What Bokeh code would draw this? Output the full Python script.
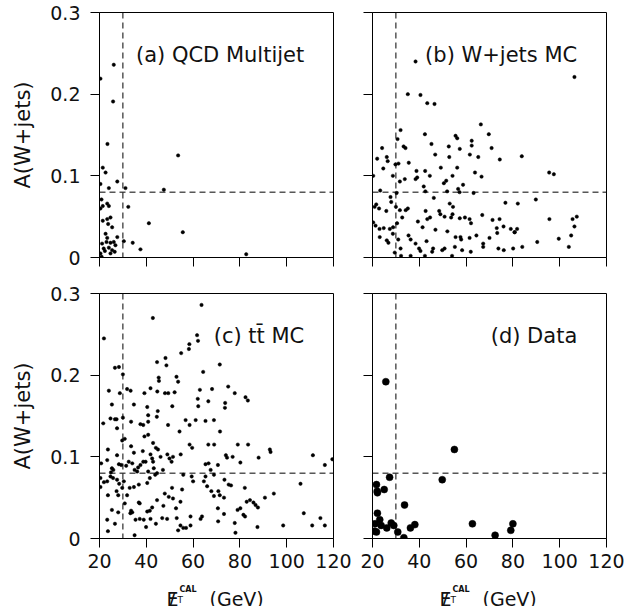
from bokeh.plotting import figure
from bokeh.models import (Range1d, FixedTicker, NumeralTickFormatter, Span, Label,
                          CustomJSTickFormatter)
from bokeh.layouts import column, row
from bokeh.embed import file_html
from bokeh.resources import INLINE

FONT = "DejaVu Sans"
X_TICKS = [20, 40, 60, 80, 100, 120]
Y_TICKS = [0, 0.1, 0.2, 0.3]
MET_CUT = 30
A_CUT = 0.08
Y_LABEL = "A(W+jets)"
TITLES = ["(a) QCD Multijet", "(b) W+jets MC", "(c) tt\u0304 MC", "(d) Data"]

qcd_x = [20.85, 21.4, 23.3, 24.0, 21.4, 23.3, 24.7, 23.7, 25.4, 22.6, 23.3, 21.1, 23.0, 24.7,
         26.1, 27.6, 21.8, 24.0, 25.4, 20.4, 22.3, 24.7, 26.5, 20.9, 30.4, 34.2, 37.5, 32.3,
         41.1, 55.6, 31.1, 47.5, 27.6, 24.0, 22.6, 21.4, 20.4, 23.4, 53.6, 25.8, 20.4, 26.1,
         82.7, 20.4, 26.8]
qcd_y = [0.071, 0.063, 0.066, 0.063, 0.045, 0.047, 0.049, 0.041, 0.037, 0.029, 0.024, 0.017,
         0.019, 0.018, 0.019, 0.025, 0.011, 0.012, 0.009, 0.005, 0.008, 0.005, 0.007, 0.001,
         0.020, 0.018, 0.010, 0.062, 0.042, 0.031, 0.085, 0.083, 0.093, 0.085, 0.104, 0.110,
         0.090, 0.139, 0.125, 0.191, 0.219, 0.236, 0.004, 0.060, 0.015]

wjets_x = [38.4, 106.3, 35.1, 40.5, 43.4, 46.5, 66.3, 32.0, 42.4, 69.7, 55.5, 56.2, 62.4, 62.4,
           30.7, 45.2, 33.3, 34.1, 24.1, 52.6, 57.3, 70.9, 46.8, 52.8, 22.0, 26.1, 26.5, 35.5,
           61.6, 65.2, 74.4, 83.8, 24.6, 29.8, 31.1, 42.5, 49.2, 56.2, 20.3, 28.7, 31.7, 33.8,
           38.4, 38.8, 39.1, 44.5, 50.5, 51.5, 54.2, 63.8, 66.6, 95.5, 97.5, 23.3, 30.3, 41.9,
           42.6, 46.2, 51.9, 56.6, 57.2, 58.7, 63.2, 21.6, 20.9, 22.8, 25.9, 28.0, 30.0, 31.7,
           34.2, 35.1, 42.7, 48.5, 53.0, 54.4, 54.2, 76.8, 82.1, 89.8, 27.7, 20.3, 21.3, 23.0,
           24.8, 27.4, 28.8, 30.5, 32.7, 39.4, 41.4, 43.4, 44.6, 46.9, 49.0, 50.8, 53.6, 57.3,
           59.5, 61.5, 62.1, 66.9, 71.3, 74.3, 76.0, 73.1, 73.3, 79.1, 80.7, 81.8, 80.8, 95.6,
           105.5, 107.3, 106.3, 23.1, 26.1, 28.7, 31.0, 35.4, 36.3, 38.4, 43.1, 52.0, 55.5,
           57.6, 57.9, 61.5, 64.4, 67.3, 67.3, 70.0, 73.8, 76.1, 80.1, 84.0, 90.4, 99.6, 103.9,
           104.9, 26.8, 29.5, 32.0, 36.3, 39.9, 40.5, 45.9, 49.8, 50.8, 54.0, 58.3, 62.0, 42.4,
           45.5, 55.2, 32.2]
wjets_y = [0.240, 0.221, 0.200, 0.199, 0.189, 0.188, 0.163, 0.156, 0.151, 0.151, 0.149, 0.146,
           0.143, 0.137, 0.145, 0.139, 0.136, 0.134, 0.134, 0.136, 0.133, 0.134, 0.126, 0.123,
           0.121, 0.123, 0.118, 0.116, 0.126, 0.123, 0.120, 0.124, 0.109, 0.114, 0.115, 0.106,
           0.110, 0.110, 0.100, 0.100, 0.093, 0.096, 0.096, 0.106, 0.098, 0.100, 0.091, 0.094,
           0.100, 0.104, 0.099, 0.104, 0.102, 0.082, 0.079, 0.087, 0.081, 0.073, 0.081, 0.084,
           0.080, 0.089, 0.079, 0.065, 0.062, 0.060, 0.057, 0.068, 0.062, 0.058, 0.058, 0.060,
           0.057, 0.057, 0.066, 0.062, 0.053, 0.067, 0.066, 0.071, 0.074, 0.043, 0.039, 0.035,
           0.036, 0.035, 0.037, 0.042, 0.049, 0.044, 0.037, 0.047, 0.049, 0.034, 0.053, 0.050,
           0.049, 0.048, 0.049, 0.047, 0.042, 0.052, 0.046, 0.047, 0.038, 0.036, 0.030, 0.035,
           0.031, 0.035, 0.031, 0.047, 0.047, 0.050, 0.038, 0.025, 0.021, 0.029, 0.022, 0.027,
           0.022, 0.017, 0.020, 0.032, 0.025, 0.025, 0.022, 0.024, 0.027, 0.017, 0.013, 0.024,
           0.011, 0.009, 0.011, 0.013, 0.019, 0.023, 0.013, 0.027, 0.018, 0.006, 0.011, 0.002,
           0.011, 0.008, 0.011, 0.009, 0.011, 0.002, 0.009, 0.007, 0.002, 0.007, 0.013, 0.002]

ttbar_x = [63.6, 42.8, 21.9, 61.7, 62.1, 58.4, 58.2, 54.9, 52.9, 53.6, 64.3, 71.4, 48.2, 48.6,
           44.6, 45.3, 45.4, 26.6, 28.3, 30.0, 21.6, 24.0, 28.7, 31.8, 33.3, 39.2, 41.8, 40.4,
           44.7, 48.0, 49.4, 52.1, 51.1, 62.9, 68.1, 62.0, 62.2, 66.5, 75.0, 77.8, 73.7, 73.6,
           82.4, 83.4, 25.3, 34.7, 40.8, 44.5, 44.9, 24.7, 26.6, 27.3, 30.0, 33.5, 37.5, 38.7,
           40.8, 49.3, 54.2, 56.8, 58.5, 61.1, 65.3, 68.9, 71.5, 23.6, 27.5, 29.7, 30.8, 33.5,
           39.2, 40.8, 34.7, 38.5, 42.9, 44.1, 45.0, 41.8, 42.5, 42.9, 46.1, 49.0, 49.9, 50.8,
           51.4, 54.7, 58.5, 59.6, 66.5, 69.0, 74.0, 74.5, 76.9, 79.1, 83.5, 80.2, 88.0, 92.8,
           93.1, 20.7, 23.3, 25.3, 25.9, 24.9, 27.5, 28.3, 29.3, 31.4, 32.5, 34.0, 35.0, 36.1,
           36.5, 37.5, 38.7, 39.7, 40.8, 43.2, 43.8, 44.6, 47.1, 55.8, 59.4, 60.0, 65.3, 66.6,
           67.5, 68.9, 70.6, 65.3, 20.4, 21.9, 23.3, 24.7, 25.8, 27.5, 28.4, 29.7, 30.4, 32.9,
           34.7, 36.8, 40.4, 41.5, 20.4, 23.6, 27.3, 28.0, 31.8, 30.8, 33.5, 34.0, 36.8, 37.2,
           40.4, 41.5, 42.5, 44.6, 47.3, 47.9, 49.6, 51.4, 52.7, 54.6, 55.3, 51.0, 64.6, 66.0,
           67.8, 68.9, 70.8, 71.4, 73.4, 75.2, 76.2, 73.2, 70.6, 73.2, 23.3, 25.3, 26.6, 28.0,
           33.2, 35.4, 37.2, 38.9, 39.9, 41.8, 44.1, 46.8, 48.9, 53.0, 53.6, 54.6, 55.8, 57.0,
           58.9, 58.9, 63.2, 63.8, 70.7, 77.8, 78.1, 79.0, 80.2, 81.5, 82.2, 82.9, 84.3, 85.8,
           86.7, 87.7, 87.5, 90.7, 94.5, 98.5, 82.1, 23.6, 35.0, 105.9, 107.3, 111.2, 110.9,
           114.4, 116.3, 116.3, 119.5]
ttbar_y = [0.286, 0.270, 0.245, 0.249, 0.242, 0.238, 0.232, 0.227, 0.198, 0.192, 0.204, 0.213,
           0.221, 0.212, 0.216, 0.197, 0.193, 0.209, 0.210, 0.201, 0.141, 0.181, 0.178, 0.183,
           0.181, 0.178, 0.184, 0.161, 0.180, 0.178, 0.178, 0.179, 0.162, 0.182, 0.183, 0.171,
           0.162, 0.168, 0.186, 0.178, 0.166, 0.160, 0.173, 0.169, 0.164, 0.164, 0.151, 0.149,
           0.156, 0.147, 0.146, 0.146, 0.148, 0.143, 0.140, 0.139, 0.143, 0.139, 0.131, 0.145,
           0.139, 0.145, 0.144, 0.145, 0.131, 0.109, 0.135, 0.120, 0.122, 0.113, 0.125, 0.127,
           0.105, 0.107, 0.117, 0.111, 0.109, 0.103, 0.098, 0.094, 0.100, 0.103, 0.098, 0.094,
           0.100, 0.103, 0.115, 0.111, 0.115, 0.115, 0.102, 0.099, 0.100, 0.115, 0.115, 0.093,
           0.099, 0.109, 0.106, 0.092, 0.096, 0.086, 0.084, 0.081, 0.102, 0.091, 0.090, 0.089,
           0.094, 0.092, 0.084, 0.082, 0.087, 0.090, 0.094, 0.094, 0.082, 0.086, 0.078, 0.080,
           0.084, 0.078, 0.076, 0.070, 0.091, 0.092, 0.084, 0.078, 0.090, 0.076, 0.074, 0.069,
           0.070, 0.076, 0.074, 0.072, 0.067, 0.062, 0.070, 0.062, 0.063, 0.066, 0.068, 0.074,
           0.063, 0.053, 0.058, 0.053, 0.053, 0.043, 0.034, 0.032, 0.044, 0.043, 0.033, 0.034,
           0.038, 0.047, 0.040, 0.055, 0.051, 0.049, 0.037, 0.045, 0.060, 0.062, 0.070, 0.064,
           0.058, 0.052, 0.058, 0.053, 0.072, 0.066, 0.065, 0.050, 0.037, 0.030, 0.023, 0.035,
           0.018, 0.032, 0.031, 0.023, 0.024, 0.023, 0.014, 0.024, 0.018, 0.025, 0.024, 0.025,
           0.010, 0.016, 0.013, 0.013, 0.016, 0.027, 0.024, 0.027, 0.021, 0.019, 0.007, 0.035,
           0.037, 0.029, 0.027, 0.045, 0.047, 0.044, 0.041, 0.038, 0.014, 0.050, 0.055, 0.016,
           0.062, 0.009, 0.004, 0.067, 0.031, 0.102, 0.016, 0.025, 0.090, 0.016, 0.097]

data_x = [25.7, 55.0, 27.3, 49.8, 21.7, 22.0, 22.1, 25.0, 33.7, 22.1, 23.1, 21.1, 23.7, 26.1,
          28.0, 29.1, 20.9, 21.7, 30.8, 33.4, 36.2, 38.1, 62.7, 72.4, 79.1, 80.0]
data_y = [0.192, 0.109, 0.075, 0.072, 0.066, 0.058, 0.056, 0.060, 0.041, 0.031, 0.023, 0.018,
          0.016, 0.013, 0.019, 0.016, 0.009, 0.008, 0.008, 0.001, 0.013, 0.017, 0.018, 0.004,
          0.010, 0.018]

X0, X1 = 20, 120
Y0, Y1 = 0.0, 0.3
BLANK = CustomJSTickFormatter(code="return '';")


def make_panel(xs, ys, title, msize, left_col, bottom_row):
    p = figure(width=352 if left_col else 274, height=305 if bottom_row else 275,
               title=None, x_range=Range1d(X0, X1), y_range=Range1d(Y0, Y1),
               output_backend="svg", toolbar_location=None,
               min_border_left=99 if left_col else 20,
               min_border_right=19 if left_col else 20,
               min_border_top=18 if bottom_row else 12,
               min_border_bottom=42 if bottom_row else 18,
               background_fill_color="white", border_fill_color="white")
    p.grid.visible = False
    p.outline_line_color = "black"
    p.outline_line_width = 1
    p.xaxis.ticker = FixedTicker(ticks=X_TICKS)
    p.yaxis.ticker = FixedTicker(ticks=Y_TICKS)
    p.yaxis.formatter = NumeralTickFormatter(format="0.[0]")
    for ax in (p.xaxis[0], p.yaxis[0]):
        ax.axis_line_color = "black"
        ax.axis_line_width = 1
        ax.major_tick_line_color = "black"
        ax.major_tick_out = 9
        ax.major_tick_in = 0
        ax.minor_tick_out = 0
        ax.minor_tick_in = 0
        ax.major_label_text_font = FONT
        ax.major_label_text_font_size = "19px"
        ax.major_label_text_color = "#111111"
    p.yaxis.major_label_standoff = 10
    p.xaxis.major_label_standoff = 6
    if not bottom_row:
        p.xaxis.formatter = BLANK
        p.xaxis.major_label_standoff = 0
    if not left_col:
        p.yaxis.formatter = BLANK
        p.yaxis.major_label_standoff = 0
    else:
        p.yaxis.axis_label = Y_LABEL
        p.yaxis.axis_label_text_font = FONT
        p.yaxis.axis_label_text_font_size = "21px"
        p.yaxis.axis_label_text_font_style = "normal"
        p.yaxis.axis_label_text_color = "#111111"
        p.yaxis.axis_label_standoff = 12

    p.add_layout(Span(location=MET_CUT, dimension="height", line_color="black",
                      line_width=1, line_dash="6 4"))
    p.add_layout(Span(location=A_CUT, dimension="width", line_color="black",
                      line_width=1, line_dash="6 4"))
    p.scatter(xs, ys, marker="circle", size=msize, fill_color="black",
              line_color="black", line_width=0.5)
    p.add_layout(Label(x=107.5, y=0.248, text=title, text_align="right",
                       text_baseline="alphabetic", text_font=FONT,
                       text_font_size="21px", text_color="#111111"))
    return p


pa = make_panel(qcd_x, qcd_y, TITLES[0], 3.4, True, False)
pb = make_panel(wjets_x, wjets_y, TITLES[1], 3.4, False, False)
pc = make_panel(ttbar_x, ttbar_y, TITLES[2], 3.4, True, True)
pd = make_panel(data_x, data_y, TITLES[3], 7, False, True)

# strip holding the two x-axis titles (its own pixel coordinates, y up)
STRIP_W, STRIP_H = 626, 26
strip = figure(width=STRIP_W, height=STRIP_H, title=None,
               x_range=Range1d(0, STRIP_W), y_range=Range1d(0, STRIP_H),
               output_backend="svg", toolbar_location=None, min_border=0,
               outline_line_color=None,
               background_fill_color="white", border_fill_color="white")
strip.axis.visible = False
strip.grid.visible = False
X_TITLE_PARTS = [
    ("E", 0, 8, "19px", "normal"),
    ("/", 2, 7, "20px", "normal"),
    ("T", 11, 7, "9px", "normal"),
    ("CAL", 13, 17, "8px", "bold"),
    ("(GeV)", 43, 8, "19px", "normal"),
]
for x_start in (166, 439):
    for txt, dx, y, fs, fst in X_TITLE_PARTS:
        strip.add_layout(Label(x=x_start + dx, y=y, text=txt, text_align="left",
                               text_baseline="alphabetic", text_font=FONT,
                               text_font_size=fs, text_font_style=fst,
                               text_color="#111111"))

layout = column(row(pa, pb), row(pc, pd), strip)
open("out.html", "w").write(file_html(layout, INLINE))
